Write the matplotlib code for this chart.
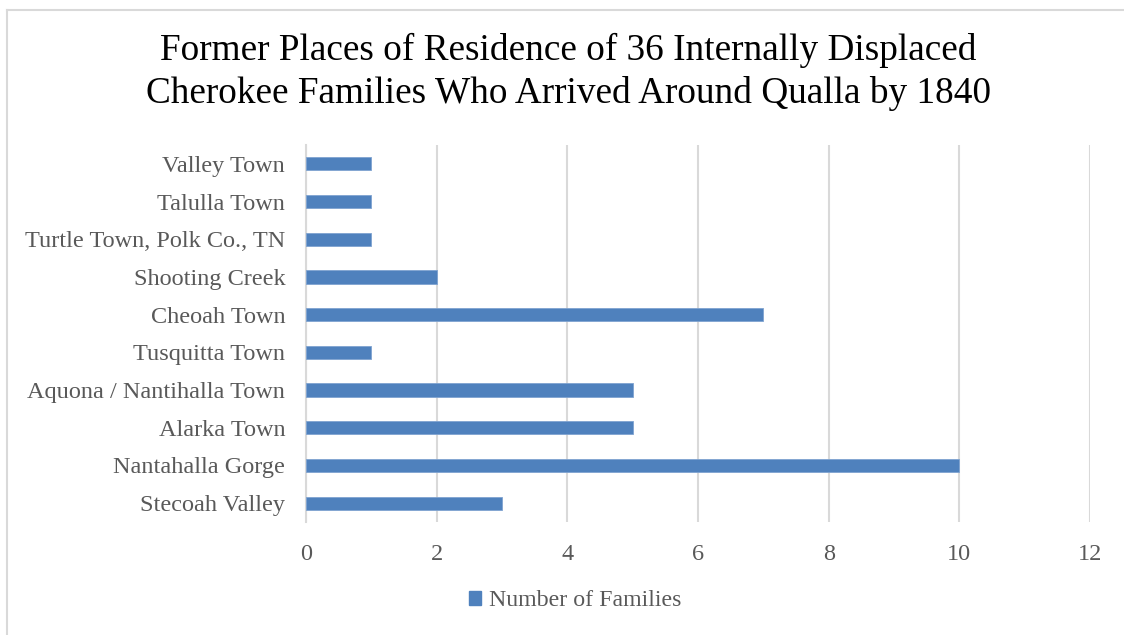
import matplotlib
matplotlib.use("Agg")
import matplotlib.pyplot as plt
from matplotlib.lines import Line2D
from matplotlib.patches import Patch

places = [
    "Stecoah Valley",
    "Nantahalla Gorge",
    "Alarka Town",
    "Aquona / Nantihalla Town",
    "Tusquitta Town",
    "Cheoah Town",
    "Shooting Creek",
    "Turtle Town, Polk Co., TN",
    "Talulla Town",
    "Valley Town",
]
families = [3, 10, 5, 5, 1, 7, 2, 1, 1, 1]
x_ticks = [0, 2, 4, 6, 8, 10, 12]

title = "Former Places of Residence of 36 Internally Displaced\nCherokee Families Who Arrived Around Qualla by 1840"
series_name = "Number of Families"

bar_color = "#4F81BD"
grid_color = "#D9D9D9"
text_color = "#595959"

plt.rcParams["font.family"] = ["Liberation Serif", "DejaVu Serif"]

W, H = 1124, 635
fig = plt.figure(figsize=(W / 100, H / 100), dpi=100)
ax = fig.add_axes([306 / W, 1 - 522 / H, (1090 - 306) / W, (522 - 145) / H])

ypos = list(range(len(places)))
ax.barh(ypos, families, height=0.35, color=bar_color,
        edgecolor="#7FA3D0", linewidth=0.6, zorder=3)

ax.set_xlim(0, 12)
ax.set_ylim(-0.5, len(places) - 0.5)
ax.set_xticks(x_ticks)
ax.set_xticklabels([str(t) for t in x_ticks])
ax.set_yticks(ypos)
ax.set_yticklabels(places)

ax.xaxis.grid(True, color=grid_color, linewidth=1.5, zorder=0)
ax.yaxis.grid(False)
for side in ["top", "right", "bottom"]:
    ax.spines[side].set_visible(False)
ax.spines["left"].set_color(grid_color)
ax.spines["left"].set_linewidth(1.5)

ax.tick_params(axis="both", length=0, labelsize=17.5, labelcolor=text_color)
ax.tick_params(axis="x", pad=16)
ax.tick_params(axis="y", pad=15)

fig.text(568 / W, 1 - 72 / H, title, ha="center", va="center",
         fontsize=26.8, color="black", linespacing=1.3)

handle = Patch(facecolor=bar_color, edgecolor=bar_color)
fig.legend([handle], [series_name], loc="center", bbox_to_anchor=(575 / W, 1 - 601 / H),
           frameon=False, fontsize=17.2, labelcolor=text_color,
           handlelength=0.5, handleheight=0.5, handletextpad=0.35)

# chart frame edges along top and left
fig.add_artist(Line2D([7 / W, 1.0], [1 - 10 / H, 1 - 10 / H], color=grid_color, linewidth=1.5))
fig.add_artist(Line2D([7 / W, 7 / W], [0.0, 1 - 10 / H], color=grid_color, linewidth=1.5))

fig.savefig("out.png", dpi=100, facecolor="white")
